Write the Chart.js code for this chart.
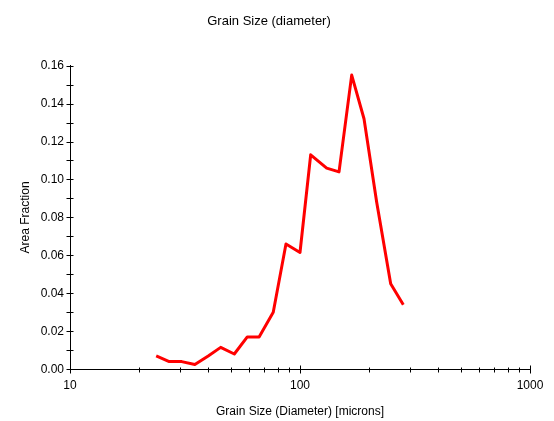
<!DOCTYPE html>
<html>
<head>
<meta charset="utf-8">
<script src="https://cdn.jsdelivr.net/npm/chart.js@4/dist/chart.umd.min.js"></script>
<style>
  html, body { margin: 0; padding: 0; background: #fff; }
  #wrap { width: 554px; height: 421px; }
</style>
</head>
<body>
<div id="wrap"><canvas id="grainChart" width="554" height="421"></canvas></div>
<script>
// Grain size distribution (diameter, microns) vs. area fraction
const grainSize = [23.7, 27.0, 30.6, 34.9, 39.9, 45.2, 51.8, 59.0, 66.4, 76.5,
                   86.9, 100, 111.3, 130.6, 147.8, 167.8, 189.8, 215.5, 247.9, 281.3];
const areaFraction = [0.007, 0.004, 0.004, 0.0025, 0.007, 0.0115, 0.008, 0.017, 0.017, 0.030,
                      0.066, 0.0615, 0.113, 0.106, 0.104, 0.155, 0.132, 0.088, 0.045, 0.034];

// Axis ticks
const xLabelTicks = [10, 100, 1000];
const xMinorTicks = [20, 30, 40, 50, 60, 70, 80, 90, 200, 300, 400, 500, 600, 700, 800, 900];
const yLabelTicks = [0, 0.02, 0.04, 0.06, 0.08, 0.10, 0.12, 0.14, 0.16];
const yMinorTicks = [0.01, 0.03, 0.05, 0.07, 0.09, 0.11, 0.13, 0.15];

const FONT = 'Arial, "Liberation Sans", sans-serif';

// Tick marks that cross the axis line (Chart.js only draws them outside)
const crossTicks = {
    id: 'crossTicks',
    afterDraw(chart) {
        const { ctx, scales: { x, y } } = chart;
        ctx.save();
        ctx.strokeStyle = '#000';
        ctx.lineWidth = 1;
        ctx.beginPath();
        const ax = Math.round(x.left) + 0.5;
        yLabelTicks.concat(yMinorTicks).forEach(v => {
            const py = Math.round(y.getPixelForValue(v)) + 0.5;
            ctx.moveTo(ax - 4, py);
            ctx.lineTo(ax + 3, py);
        });
        const ay = Math.round(y.bottom) + 0.5;
        xMinorTicks.forEach(v => {
            const px = Math.round(x.getPixelForValue(v)) + 0.5;
            ctx.moveTo(px, ay - 2);
            ctx.lineTo(px, ay + 3);
        });
        xLabelTicks.forEach(v => {
            const px = Math.round(x.getPixelForValue(v)) + 0.5;
            ctx.moveTo(px, ay - 4);
            ctx.lineTo(px, ay + 4);
        });
        ctx.stroke();
        ctx.restore();
    }
};

new Chart(document.getElementById('grainChart'), {
    type: 'line',
    data: {
        datasets: [{
            label: 'Area Fraction',
            data: grainSize.map((g, i) => ({ x: g, y: areaFraction[i] })),
            borderColor: '#ff0000',
            borderWidth: 3,
            borderJoinStyle: 'round',
            pointRadius: 0,
            tension: 0,
            fill: false
        }]
    },
    options: {
        responsive: false,
        animation: false,
        layout: { padding: { left: 8, right: 24, top: 0, bottom: 2 } },
        plugins: {
            legend: { display: false },
            tooltip: { enabled: false },
            title: {
                display: true,
                text: 'Grain Size (diameter)',
                color: '#000',
                font: { family: FONT, size: 13, weight: 'normal' },
                padding: { top: 14, bottom: 36 }
            }
        },
        scales: {
            x: {
                type: 'logarithmic',
                min: 10,
                max: 1000,
                afterBuildTicks: (scale) => {
                    scale.ticks = xLabelTicks.map(v => ({ value: v }));
                },
                grid: { display: false, drawTicks: false },
                border: { display: true, color: '#000', width: 1 },
                ticks: {
                    color: '#000',
                    font: { family: FONT, size: 12 },
                    padding: 9,
                    maxRotation: 0,
                    autoSkip: false,
                    callback: (v) => String(v)
                },
                title: {
                    display: true,
                    text: 'Grain Size (Diameter) [microns]',
                    color: '#000',
                    font: { family: FONT, size: 12 },
                    padding: { top: 3, bottom: 0 }
                }
            },
            y: {
                min: 0,
                max: 0.16,
                afterBuildTicks: (scale) => {
                    scale.ticks = yLabelTicks.map(v => ({ value: v }));
                },
                afterFit: (scale) => { scale.width = 62; },
                grid: { display: false, drawTicks: false },
                border: { display: true, color: '#000', width: 1 },
                ticks: {
                    color: '#000',
                    font: { family: FONT, size: 12 },
                    padding: 6,
                    callback: (v) => Number(v).toFixed(2)
                },
                title: {
                    display: true,
                    text: 'Area Fraction',
                    color: '#000',
                    font: { family: FONT, size: 12 },
                    padding: { top: 10, bottom: 0 }
                }
            }
        }
    },
    plugins: [crossTicks]
});
</script>
</body>
</html>
